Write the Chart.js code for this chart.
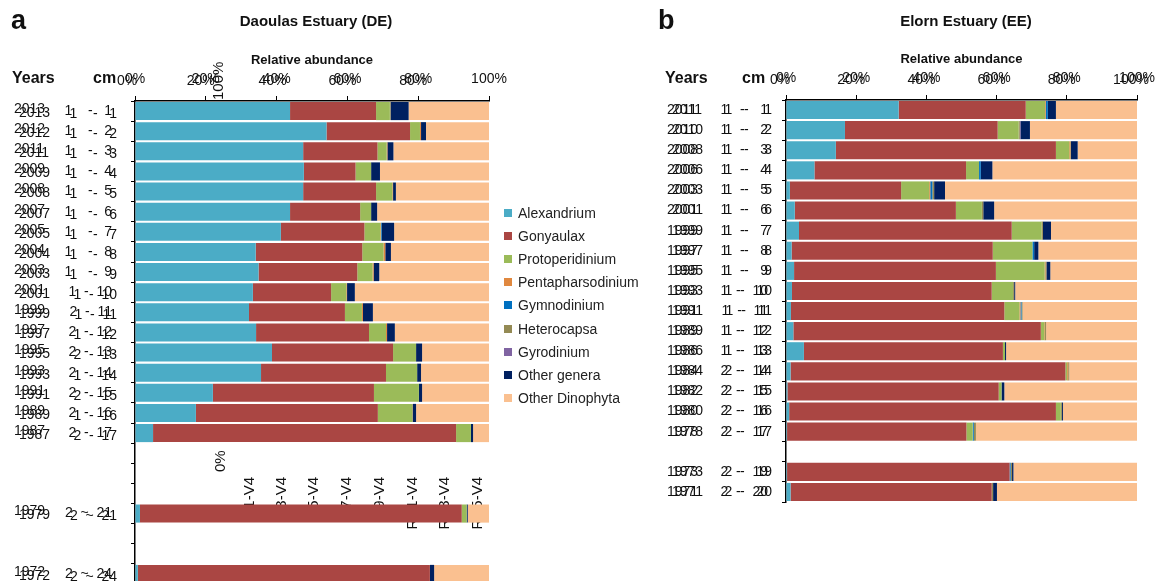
<!DOCTYPE html>
<html>
<head>
<meta charset="utf-8">
<script src="https://cdn.jsdelivr.net/npm/chart.js@4.4.0/dist/chart.umd.min.js"></script>
<style>
  body { margin: 0; width: 1160px; height: 581px; overflow: hidden; background: #fff; font-family: Arial, "Liberation Sans", sans-serif; }
  #boxDE { position: absolute; left: 0; top: 0; }
  #boxEE { position: absolute; left: 640px; top: 0; }
  #legend { position: absolute; left: 504px; top: 201px; font: 14px Arial, "Liberation Sans", sans-serif; color: #222; }
  #legend .item { height: 23.2px; display: flex; align-items: center; white-space: nowrap; }
  #legend .sw { width: 8px; height: 8px; margin-right: 6px; display: inline-block; }
</style>
</head>
<body>
<div id="boxDE"><canvas id="chartDE" width="520" height="590"></canvas></div>
<div id="boxEE"><canvas id="chartEE" width="520" height="581"></canvas></div>
<div id="legend"></div>

<script>
// taxa (stack order, left to right)
const SERIES = ['Alexandrium', 'Gonyaulax', 'Protoperidinium', 'Pentapharsodinium', 'Gymnodinium',
  'Heterocapsa', 'Gyrodinium', 'Other genera', 'Other Dinophyta'];
const COLORS = ['#4bacc6', '#aa4643', '#9bbb59', '#e0883f', '#0070c0', '#948a54', '#8064a2', '#002060', '#fac090'];
const X_TICKS = [0, 20, 40, 60, 80, 100];

// --- Daoulas (DE): one slot per cm of core, empty slots = no sample ---
const deDepth = ['1    -   1', '1    -   2', '1    -   3', '1    -   4', '1    -   5', '1    -   6', '1    -   7', '1    -   8', '1    -   9', '1  -  10',
  '2  -  11', '2  -  12', '2  -  13', '2  -  14', '2  -  15', '2  -  16', '2  -  17', '', '', '', '2  ~  21', '', '', '2  ~  24'];
const deDepthB = ['1    -   1', '1    -   2', '1    -   3', '1    -   4', '1    -   5', '1    -   6', '1    -   7', '1    -   8', '1    -   9', '1  -  10',
  '1  -  11', '1  -  12', '2  -  13', '1  -  14', '2  -  15', '1  -  16', '2  -  17', '', '', '', '2  ~  21', '', '', '2  ~  24'];
const deYears = ['2013', '2012', '2011', '2009', '2008', '2007', '2005', '2004', '2003', '2001',
  '1999', '1997', '1995', '1993', '1991', '1989', '1987', '', '', '', '1979', '', '', '1972'];

const deAlexandrium = [43.8, 54.1, 47.5, 47.7, 47.5, 43.8, 41.2, 34.1, 34.9, 33.3, 32.2, 34.2, 38.7, 35.6, 22.0, 17.2, 5.1, null, null, null, 1.4, null, null, 0.8];
const deGonyaulax = [24.3, 23.6, 21.0, 14.6, 20.6, 19.8, 23.6, 30.1, 27.9, 22.1, 27.1, 31.9, 34.2, 35.3, 45.5, 51.4, 85.6, null, null, null, 90.9, null, null, 82.5];
const deProtoperidinium = [3.9, 2.8, 2.6, 4.4, 4.6, 3.1, 4.5, 6.0, 4.3, 4.3, 4.8, 4.8, 6.5, 8.8, 12.7, 9.7, 4.2, null, null, null, 1.4, null, null, 0];
const dePentapharsodinium = [0, 0.3, 0.2, 0, 0.2, 0, 0.2, 0.5, 0.3, 0.2, 0.3, 0.3, 0, 0, 0, 0, 0, null, null, null, 0, null, null, 0];
const deGymnodinium = [0, 0, 0, 0, 0, 0, 0.2, 0, 0, 0, 0, 0, 0, 0, 0, 0, 0, null, null, null, 0, null, null, 0];
const deHeterocapsa = [0.2, 0, 0, 0, 0, 0, 0, 0, 0, 0, 0, 0, 0, 0, 0, 0.2, 0, null, null, null, 0, null, null, 0];
const deGyrodinium = [0, 0, 0, 0, 0, 0, 0, 0, 0, 0, 0, 0, 0, 0, 0, 0, 0, null, null, null, 0, null, null, 0];
const deOtherGenera = [5.1, 1.4, 1.7, 2.5, 0.8, 1.7, 3.5, 1.6, 1.6, 2.2, 2.8, 2.2, 1.7, 1.1, 0.9, 0.9, 0.6, null, null, null, 0.3, null, null, 1.2];
const deOtherDinophyta = [22.7, 17.8, 27.0, 30.8, 26.3, 31.6, 26.8, 27.7, 31.0, 37.9, 32.8, 26.6, 18.9, 19.2, 18.9, 20.6, 4.5, null, null, null, 6.0, null, null, 15.5];

// --- Elorn (EE) ---
const eeDepth = ['1   -    1', '1   -    2', '1   -    3', '1   -    4', '1   -    5', '1   -    6', '1   -    7', '1   -    8', '1   -    9', '1  -   10',
  '1  -   11', '1  -   12', '1  -   13', '2  -   14', '2  -   15', '2  -   16', '2  -   17', '', '2  -   19', '2  -   20'];
const eeYears = ['2011', '2010', '2008', '2006', '2003', '2001', '1999', '1997', '1995', '1993',
  '1991', '1989', '1986', '1984', '1982', '1980', '1978', '', '1973', '1971'];

const eeAlexandrium = [32.1, 16.8, 14.2, 8.1, 1.1, 2.5, 3.7, 1.6, 2.3, 1.7, 1.4, 2.1, 5.1, 1.3, 0.4, 0.9, 0.3, null, 0.3, 1.3];
const eeGonyaulax = [36.2, 43.5, 62.7, 43.2, 31.7, 45.9, 60.6, 57.3, 57.5, 56.9, 60.8, 70.5, 56.7, 78.3, 60.2, 76.0, 51.1, null, 63.4, 57.3];
const eeProtoperidinium = [5.5, 6.0, 3.8, 3.7, 8.0, 7.4, 8.5, 11.3, 13.9, 6.1, 4.3, 1.0, 0.6, 0.5, 0.8, 1.4, 1.8, null, 0, 0];
const eePentapharsodinium = [0.2, 0, 0.3, 0, 0.3, 0, 0, 0, 0.2, 0, 0.3, 0.2, 0, 0.3, 0, 0, 0, null, 0, 0];
const eeGymnodinium = [0.6, 0, 0, 0.5, 0.6, 0, 0, 0.5, 0, 0, 0.3, 0, 0, 0, 0, 0, 0.3, null, 0.3, 0];
const eeHeterocapsa = [0, 0.3, 0.2, 0, 0.5, 0.4, 0.4, 0, 0.3, 0.3, 0.3, 0.3, 0, 0.3, 0, 0.3, 0.6, null, 0.4, 0.4];
const eeGyrodinium = [0, 0.2, 0, 0, 0, 0, 0, 0, 0, 0, 0, 0, 0, 0, 0, 0, 0, null, 0, 0];
const eeOtherGenera = [2.3, 2.7, 1.9, 3.3, 3.1, 3.1, 2.3, 1.2, 1.1, 0.3, 0, 0, 0.3, 0, 0.8, 0.3, 0, null, 0.4, 1.1];
const eeOtherDinophyta = [23.1, 30.5, 16.9, 41.2, 54.7, 40.7, 24.5, 28.1, 24.7, 34.7, 32.6, 25.9, 37.3, 19.3, 37.8, 21.1, 45.9, null, 35.2, 39.9];

const FONT = 'Arial, "Liberation Sans", sans-serif';
Chart.defaults.font.family = FONT;
Chart.defaults.animation = false;

function buildDatasets(cols) {
  return SERIES.map((name, i) => ({
    label: name,
    data: cols[i],
    backgroundColor: COLORS[i],
    borderWidth: 0,
    barPercentage: 0.9,
    categoryPercentage: 1
  }));
}

// extra text: titles, row headers, year column and the doubled labels
function decor(o) {
  function txt(ctx, s, x, y, font, align, base, rot) {
    ctx.save();
    ctx.font = font;
    ctx.fillStyle = '#111';
    ctx.textAlign = align || 'left';
    ctx.textBaseline = base || 'middle';
    ctx.translate(x, y);
    if (rot) ctx.rotate(-Math.PI / 2);
    ctx.fillText(s, 0, 0);
    ctx.restore();
  }
  return {
    id: 'decor',
    beforeDatasetsDraw(chart) {
      const ctx = chart.ctx;
      (o.behind || []).forEach(t => txt(ctx, t.s, t.x, t.y, '15px ' + FONT, t.align, 'middle', true));
    },
    afterDraw(chart) {
      const ctx = chart.ctx;
      const area = chart.chartArea;
      const xs = chart.scales.x, ys = chart.scales.y;
      txt(ctx, o.letter, o.letterX, 22, 'bold 27px ' + FONT);
      txt(ctx, o.title, o.titleX, 22, 'bold 15px ' + FONT, 'center');
      txt(ctx, 'Years', o.yearsX, 79, 'bold 16px ' + FONT);
      txt(ctx, 'cm', o.cmX, 79, 'bold 16px ' + FONT);
      // second print of the % labels
      X_TICKS.forEach((v, i) => {
        if (o.xGhost[i] === null) return;
        txt(ctx, v + '%', xs.getPixelForValue(v) + o.xGhost[i], area.top - 13, '14px ' + FONT, 'center', 'bottom');
      });
      o.years.forEach((yr, i) => {
        if (!yr) return;
        const y = ys.getPixelForValue(i);
        txt(ctx, yr, o.yearX, y + o.yearA, '14px ' + FONT);
        txt(ctx, yr, o.yearX + o.yearGhost[0], y + o.yearA + o.yearGhost[1], '14px ' + FONT);
        txt(ctx, o.depthB[i], area.left - 4 - o.pad + o.depthGhost[0], y + o.depthGhost[1], '14px ' + FONT, 'right');
      });
    }
  };
}

function makeChart(id, labels, cols, o) {
  return new Chart(document.getElementById(id), {
    type: 'bar',
    data: { labels: labels, datasets: buildDatasets(cols) },
    options: {
      indexAxis: 'y',
      responsive: false,
      layout: { padding: o.padding },
      plugins: { legend: { display: false }, tooltip: { enabled: false } },
      scales: {
        x: {
          position: 'top',
          stacked: true,
          min: 0,
          max: 100,
          afterBuildTicks: s => { s.ticks = X_TICKS.map(v => ({ value: v })); },
          afterFit: s => { s.height = 52; s.paddingLeft = 0; s.paddingRight = 0; },
          ticks: { callback: v => v + '%', color: '#111', font: { size: 14 }, padding: 8, maxRotation: 0, autoSkip: false },
          grid: { drawOnChartArea: false, tickLength: 5, color: '#000' },
          border: { color: '#000', width: 1.5 },
          title: { display: true, text: 'Relative abundance', color: '#111', font: { size: 13, weight: 'bold' }, padding: { top: 4, bottom: 0 } }
        },
        y: {
          stacked: true,
          // fixed axis width; no extra room above/below the first and last rows
          afterFit: s => { s.width = o.axisWidth; s.paddingTop = 0; s.paddingBottom = 0; },
          ticks: { color: '#111', font: { size: 14 }, padding: o.pad, autoSkip: false },
          grid: { drawOnChartArea: false, tickLength: 4, color: '#000', offset: true },
          border: { color: '#000', width: 1.5 }
        }
      }
    },
    plugins: [decor(o)]
  });
}

makeChart('chartDE', deDepth,
  [deAlexandrium, deGonyaulax, deProtoperidinium, dePentapharsodinium, deGymnodinium,
   deHeterocapsa, deGyrodinium, deOtherGenera, deOtherDinophyta], {
  padding: { top: 49, left: 0, right: 31, bottom: 6 },
  axisWidth: 135, pad: 19,
  letter: 'a', letterX: 11, title: 'Daoulas Estuary (DE)', titleX: 316,
  yearsX: 12, cmX: 93, yearX: 14, yearA: -2, yearGhost: [5, 4], depthGhost: [5, 3],
  years: deYears, depthB: deDepthB,
  xGhost: [-8, -5, -4, -5, -5, null],
  behind: [
    { s: '100%', x: 219, y: 100, align: 'left' },
    { s: '0%', x: 221, y: 472, align: 'left' },
    { s: 'R1-V4', x: 250, y: 477, align: 'right' },
    { s: 'R3-V4', x: 282, y: 477, align: 'right' },
    { s: 'R5-V4', x: 314, y: 477, align: 'right' },
    { s: 'R7-V4', x: 347, y: 477, align: 'right' },
    { s: 'R9-V4', x: 380, y: 477, align: 'right' },
    { s: 'RE1-V4', x: 413, y: 477, align: 'right' },
    { s: 'RE3-V4', x: 445, y: 477, align: 'right' },
    { s: 'RE5-V4', x: 478, y: 477, align: 'right' }
  ]
});

makeChart('chartEE', eeDepth,
  [eeAlexandrium, eeGonyaulax, eeProtoperidinium, eePentapharsodinium, eeGymnodinium,
   eeHeterocapsa, eeGyrodinium, eeOtherGenera, eeOtherDinophyta], {
  padding: { top: 48, left: 0, right: 23, bottom: 79 },
  axisWidth: 146, pad: 14,
  letter: 'b', letterX: 18, title: 'Elorn Estuary (EE)', titleX: 326,
  yearsX: 25, cmX: 102, yearX: 27, yearA: 0, yearGhost: [5, 0], depthGhost: [4, 0],
  years: eeYears, depthB: eeDepth,
  xGhost: [-6, -5, -5, -5, -5, -6],
  behind: []
});

// legend between the two cores
const legendBox = document.getElementById('legend');
SERIES.forEach((name, i) => {
  const row = document.createElement('div');
  row.className = 'item';
  row.innerHTML = '<span class="sw" style="background:' + COLORS[i] + '"></span>' + name;
  legendBox.appendChild(row);
});
</script>
</body>
</html>
